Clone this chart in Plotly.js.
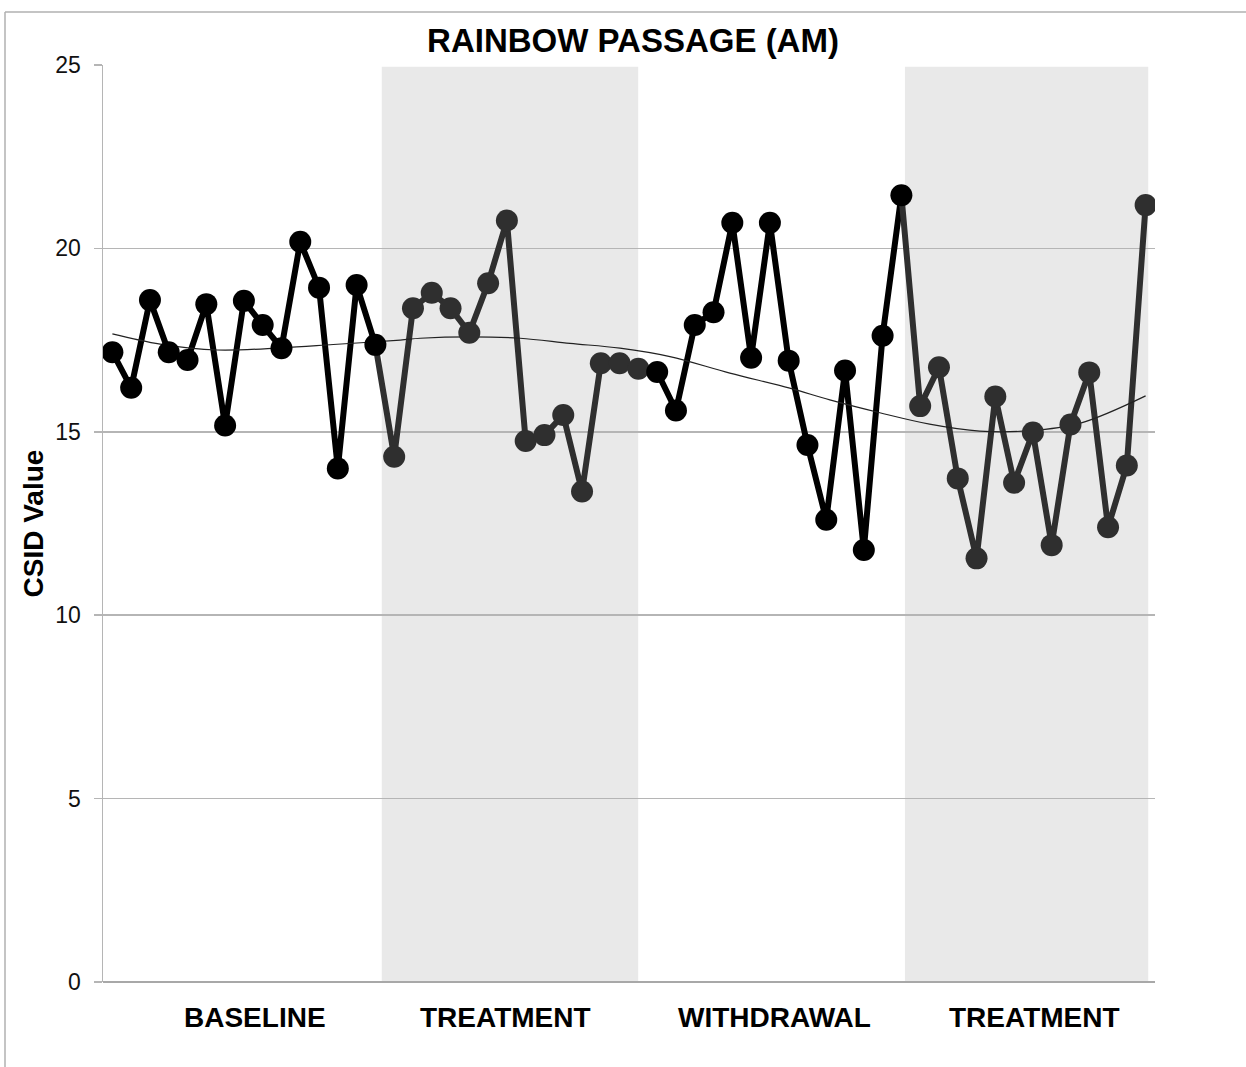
<!DOCTYPE html>
<html>
<head>
<meta charset="utf-8">
<script src="https://cdn.plot.ly/plotly-3.0.1.min.js"></script>
<style>html,body{margin:0;padding:0;background:#fff;}#chart{width:1246px;height:1067px;}</style>
</head>
<body>
<div id="chart"></div>
<script>
// ---- data ----
const sessions = [1,2,3,4,5,6,7,8,9,10,11,12,13,14,15,16,17,18,19,20,21,22,23,24,25,26,27,28,
  29,30,31,32,33,34,35,36,37,38,39,40,41,42,43,44,45,46,47,48,49,50,51,52,53,54,55,56];
const csid = [17.17,16.20,18.59,17.17,16.96,18.48,15.17,18.57,17.91,17.28,20.18,18.93,14.00,19.00,17.37,
  14.32,18.37,18.79,18.37,17.70,19.05,20.76,14.75,14.91,15.46,13.37,16.87,16.87,16.72,
  16.63,15.58,17.91,18.26,20.70,17.02,20.70,16.94,14.64,12.60,16.67,11.78,17.62,21.45,
  15.70,16.76,13.73,11.55,15.96,13.61,14.98,11.91,15.20,16.62,12.40,14.08,21.18];
const phaseNames = ["BASELINE","TREATMENT","WITHDRAWAL","TREATMENT"];
const phaseFirst = [1,16,30,44];
const phaseLast  = [15,29,43,56];
const trendX = [1.0,3.55,6.57,10.03,12.76,16.32,17.38,20.04,22.70,25.36,28.02,30.68,33.87,37.06,39.19,41.85,44.5,47.17,49.83,52.49,56.0];
const trendY = [17.67,17.39,17.23,17.29,17.38,17.50,17.55,17.59,17.55,17.41,17.28,17.05,16.60,16.19,15.87,15.52,15.21,15.02,15.03,15.23,15.98];
const yTicks = [0,5,10,15,20,25];

// ---- styling / layout ----
const W = 1246, H = 1067;
const L = 103, R = 1155, T = 65, B = 982;
const phaseColors = ["#000000","#2f2f2f","#000000","#2f2f2f"];
const FONT = "Liberation Sans, Arial, Helvetica, sans-serif";

const traces = [];
phaseNames.forEach((p, i) => {
  const start = i === 0 ? phaseFirst[i] : phaseFirst[i] - 1;
  const xs = [], ys = [];
  for (let k = 0; k < sessions.length; k++) {
    if (sessions[k] >= start && sessions[k] <= phaseLast[i]) { xs.push(sessions[k]); ys.push(csid[k]); }
  }
  traces.push({x: xs, y: ys, type: 'scatter', mode: 'lines', line: {color: phaseColors[i], width: 6},
    hoverinfo: 'skip', showlegend: false});
});
traces.push({x: trendX, y: trendY, type: 'scatter', mode: 'lines', line: {color: '#222', width: 1.2, shape: 'spline', smoothing: 1.0},
  hoverinfo: 'skip', showlegend: false});
phaseNames.forEach((p, i) => {
  const xs = [], ys = [];
  for (let k = 0; k < sessions.length; k++) {
    if (sessions[k] >= phaseFirst[i] && sessions[k] <= phaseLast[i]) { xs.push(sessions[k]); ys.push(csid[k]); }
  }
  traces.push({x: xs, y: ys, type: 'scatter', mode: 'markers', marker: {color: phaseColors[i], size: 22, line: {width: 0}},
    name: p, showlegend: false});
});

const px2paperX = px => (px - L) / (R - L);
const px2paperY = py => (B - py) / (B - T);

const shapes = [
  {type: 'rect', xref: 'x', yref: 'y', x0: 15.34, x1: 28.99, y0: 0, y1: 24.95, fillcolor: 'rgb(233,233,233)', line: {width: 0}, layer: 'below'},
  {type: 'rect', xref: 'x', yref: 'y', x0: 43.19, x1: 56.14, y0: 0, y1: 24.95, fillcolor: 'rgb(233,233,233)', line: {width: 0}, layer: 'below'},
  {type: 'line', xref: 'paper', yref: 'paper', x0: px2paperX(5), x1: px2paperX(1246), y0: px2paperY(12), y1: px2paperY(12), line: {color: '#b0b0b0', width: 1.5}},
  {type: 'line', xref: 'paper', yref: 'paper', x0: px2paperX(5), x1: px2paperX(5), y0: px2paperY(12), y1: px2paperY(1067), line: {color: '#b0b0b0', width: 1.5}}
];

const labelX = [8.59, 21.95, 36.27, 50.11];
const annotations = phaseNames.map((p, i) => ({
  text: '<b>' + p + '</b>', x: labelX[i], xref: 'x', y: 0, yref: 'y', yanchor: 'top', xanchor: 'center',
  yshift: -18, showarrow: false, font: {family: FONT, size: 28, color: '#000'}
}));
annotations.push({
  text: '<b>CSID Value</b>', textangle: -90, xref: 'paper', yref: 'paper', x: 0, y: 0.5,
  xanchor: 'center', yanchor: 'middle', xshift: -(L - 33), showarrow: false,
  font: {family: FONT, size: 28, color: '#000'}
});

const layout = {
  width: W, height: H,
  margin: {l: L, r: W - R, t: T, b: H - B, pad: 0},
  paper_bgcolor: '#fff', plot_bgcolor: 'rgba(0,0,0,0)',
  title: {text: '<b>RAINBOW PASSAGE (AM)</b>', font: {family: FONT, size: 33, color: '#000'},
    xref: 'paper', x: px2paperX(633), xanchor: 'center', yref: 'container', y: 1 - 40 / H, yanchor: 'middle'},
  xaxis: {range: [0.5, 56.5], showgrid: false, zeroline: false, showticklabels: false, ticks: '',
    showline: false, fixedrange: true},
  yaxis: {range: [0, 25], tickvals: yTicks, ticktext: yTicks.map(String), showgrid: true, gridcolor: '#b5b5b5', gridwidth: 1.5,
    zeroline: true, zerolinecolor: '#a8a8a8', zerolinewidth: 1.5,
    showline: true, linecolor: '#b5b5b5', linewidth: 1.5, ticks: 'outside', ticklen: 8, tickcolor: '#b5b5b5', tickwidth: 1.5,
    ticklabelstandoff: 8, tickfont: {family: FONT, size: 23, color: '#111'}, fixedrange: true},
  shapes: shapes,
  annotations: annotations,
  showlegend: false
};

Plotly.newPlot('chart', traces, layout, {displayModeBar: false, staticPlot: true});
</script>
</body>
</html>
